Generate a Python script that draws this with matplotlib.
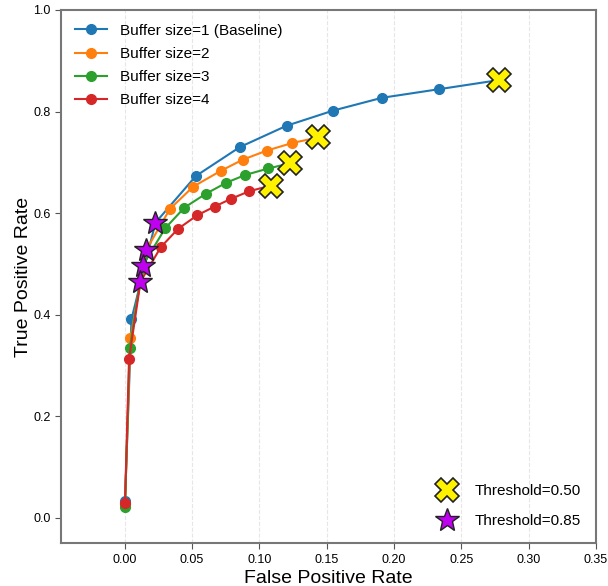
import matplotlib.pyplot as plt
from matplotlib.lines import Line2D

plt.rcParams['font.family'] = ['Liberation Sans', 'DejaVu Sans']

# --- ROC DATA ---
labels = ['Buffer size=1 (Baseline)', 'Buffer size=2', 'Buffer size=3', 'Buffer size=4']
colors = ['#1f77b4', '#ff7f0e', '#2ca02c', '#d62728']

fpr_b1 = [0.0002, 0.0050, 0.0228, 0.0528, 0.0855, 0.1202, 0.1550, 0.1910, 0.2335, 0.2781]
tpr_b1 = [0.034, 0.391, 0.581, 0.673, 0.730, 0.772, 0.802, 0.827, 0.844, 0.862]

fpr_b2 = [0.0002, 0.0042, 0.0161, 0.0335, 0.0508, 0.0712, 0.0875, 0.1054, 0.1244, 0.1437]
tpr_b2 = [0.028, 0.354, 0.528, 0.608, 0.652, 0.683, 0.705, 0.723, 0.738, 0.749]

fpr_b3 = [0.0002, 0.0037, 0.0132, 0.0300, 0.0444, 0.0602, 0.0756, 0.0894, 0.1068, 0.1227]
tpr_b3 = [0.022, 0.334, 0.496, 0.570, 0.611, 0.638, 0.660, 0.675, 0.688, 0.698]

fpr_b4 = [0.0002, 0.0032, 0.0117, 0.0268, 0.0396, 0.0540, 0.0669, 0.0788, 0.0924, 0.1083]
tpr_b4 = [0.030, 0.313, 0.465, 0.533, 0.569, 0.596, 0.613, 0.628, 0.643, 0.654]

fprs = [fpr_b1, fpr_b2, fpr_b3, fpr_b4]
tprs = [tpr_b1, tpr_b2, tpr_b3, tpr_b4]

# index of the threshold points inside each curve
idx_t085 = 2
idx_t050 = -1

# --- PLOTTING ---
fig = plt.figure(figsize=(6.08, 5.86), dpi=100)
ax = fig.add_axes([0.100, 0.073, 0.880, 0.910])

curve_handles = []
for fpr, tpr, lab, col in zip(fprs, tprs, labels, colors):
    h, = ax.plot(fpr, tpr, marker='o', markersize=7, lw=1.5, color=col, label=lab)
    curve_handles.append(h)

for fpr, tpr in zip(fprs, tprs):
    ax.plot(fpr[idx_t050], tpr[idx_t050], marker='X', markersize=17, color='#fff200',
            markeredgecolor='#222222', markeredgewidth=1.2, ls='none', zorder=5)
    ax.plot(fpr[idx_t085], tpr[idx_t085], marker='*', markersize=18, color='#c000f0',
            markeredgecolor='#222222', markeredgewidth=1.0, ls='none', zorder=5)

ax.set_xlim(-0.0475, 0.35)
ax.set_ylim(-0.05, 1.0)
ax.set_xticks([0.00, 0.05, 0.10, 0.15, 0.20, 0.25, 0.30, 0.35])
ax.set_yticks([0.0, 0.2, 0.4, 0.6, 0.8, 1.0])
ax.set_xticklabels(['0.00', '0.05', '0.10', '0.15', '0.20', '0.25', '0.30', '0.35'])
ax.tick_params(labelsize=9, length=4, color='#555555')
ax.set_xlabel('False Positive Rate', fontsize=14, labelpad=3)
ax.set_ylabel('True Positive Rate', fontsize=14, labelpad=0.5)
ax.grid(axis='x', linestyle='--', color='#e6e6e6', lw=0.8)
ax.set_axisbelow(True)
for sp in ax.spines.values():
    sp.set_color('#777777')
    sp.set_linewidth(1.5)

leg1 = ax.legend(handles=curve_handles, loc='upper left', frameon=False, fontsize=11,
                 handlelength=2.1, handletextpad=0.9, borderaxespad=0.5, labelspacing=0.6)
ax.add_artist(leg1)

thr_handles = [
    Line2D([], [], marker='X', markersize=17, color='#fff200', markeredgecolor='#222222',
           markeredgewidth=1.2, ls='none', label='Threshold=0.50'),
    Line2D([], [], marker='*', markersize=18, color='#c000f0', markeredgecolor='#222222',
           markeredgewidth=1.0, ls='none', label='Threshold=0.85'),
]
ax.legend(handles=thr_handles, loc='lower right', frameon=False, fontsize=11,
          handlelength=2.0, handletextpad=0.8, labelspacing=1.05, borderaxespad=0.6)

plt.savefig('out.png', dpi=100)
